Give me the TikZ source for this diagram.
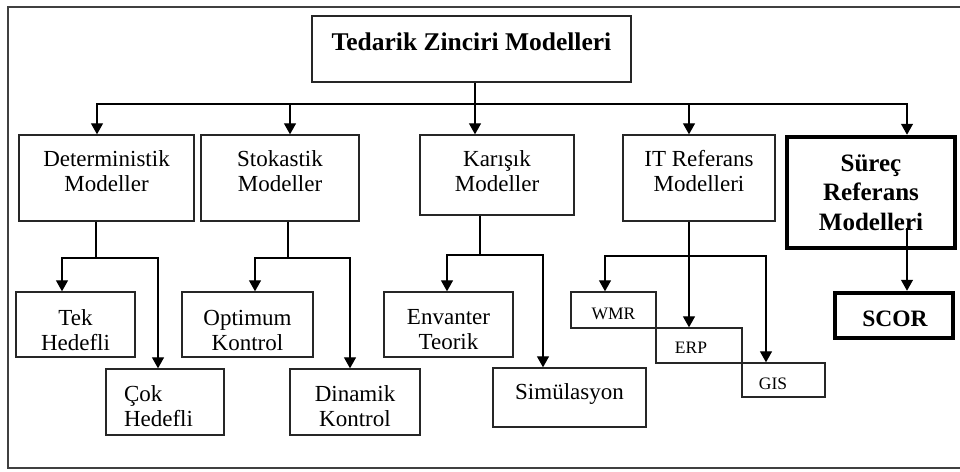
\documentclass[tikz,border=0pt]{standalone}
\usepackage{fontspec}
\setmainfont{Liberation Serif}
\usetikzlibrary{arrows.meta}
\begin{document}
\begin{tikzpicture}[x=1pt,y=-1pt,
  box/.style={draw=black!85, line width=1.4pt, rectangle, inner sep=0pt},
  heavybox/.style={draw=black, line width=4.5pt, rectangle, inner sep=0pt},
  txt/.style={align=center, inner sep=0pt, font=\fontsize{23}{25}\selectfont},
  smalltxt/.style={inner sep=0pt, font=\fontsize{17.5}{20}\selectfont},
  titletxt/.style={inner sep=0pt, font=\bfseries\fontsize{25.5}{29}\selectfont},
  boldtxt/.style={align=center, inner sep=0pt, font=\bfseries\fontsize{25}{29.5}\selectfont},
  scortxt/.style={inner sep=0pt, font=\bfseries\fontsize{23.5}{27}\selectfont},
  link/.style={draw=black, line width=1.3pt},
  arr/.style={link, -{Triangle[width=12pt,length=11pt]}}
]
\useasboundingbox (0,0) rectangle (960,471);

% outer frame (open on the right side)
\draw[line width=1.3pt, black!75] (975,7) -- (8,7) -- (8,468) -- (975,468);

% root
\node[box, minimum width=319pt, minimum height=66pt,
  label={[titletxt, name=top-t, yshift=7pt]center:Tedarik Zinciri Modelleri}] (top) at (471.5,49) {};

% first level
\node[box, minimum width=175pt, minimum height=86pt,
  label={[txt, name=det-t, yshift=6.5pt]center:{Deterministik\\Modeller}}] (det) at (106.5,178) {};
\node[box, minimum width=158pt, minimum height=86pt,
  label={[txt, name=sto-t, yshift=6.5pt]center:{Stokastik\\Modeller}}] (sto) at (280,178) {};
\node[box, minimum width=154pt, minimum height=80pt,
  label={[txt, name=kar-t, yshift=3.5pt]center:{Karışık\\Modeller}}] (kar) at (497,175) {};
\node[box, minimum width=152pt, minimum height=86pt,
  label={[txt, name=it-t, yshift=6.5pt]center:{IT Referans\\Modelleri}}] (it) at (699,178) {};
\node[heavybox, minimum width=168pt, minimum height=111pt,
  label={[boldtxt, name=sur-t]center:{Süreç\\Referans\\Modelleri}}] (sur) at (871,192.5) {};

% second level
\node[box, minimum width=119pt, minimum height=65pt,
  label={[txt, name=tek-t, yshift=-5.5pt]center:{Tek\\Hedefli}}] (tek) at (75.5,324.5) {};
\node[box, minimum width=118pt, minimum height=66pt,
  label={[txt, align=left, name=cok-t, xshift=-6.5pt, yshift=-4.5pt]center:{Çok\\Hedefli}}] (cok) at (165,402) {};
\node[box, minimum width=131pt, minimum height=65pt,
  label={[txt, name=opt-t, yshift=-5.5pt]center:{Optimum\\Kontrol}}] (opt) at (247.5,324.5) {};
\node[box, minimum width=130pt, minimum height=66pt,
  label={[txt, name=din-t, yshift=-4pt]center:{Dinamik\\Kontrol}}] (din) at (355,402) {};
\node[box, minimum width=129pt, minimum height=65pt,
  label={[txt, name=env-t, yshift=-5.5pt]center:{Envanter\\Teorik}}] (env) at (448.5,324.5) {};
\node[box, minimum width=153pt, minimum height=59pt,
  label={[txt, name=sim-t, yshift=3.25pt]center:Simülasyon}] (sim) at (569.5,397.5) {};
\node[box, minimum width=85pt, minimum height=36pt,
  label={[smalltxt, name=wmr-t, yshift=-4pt]center:WMR}] (wmr) at (613.5,310) {};
\node[box, minimum width=86pt, minimum height=35pt,
  label={[smalltxt, name=erp-t, xshift=-8pt, yshift=-2.5pt]center:ERP}] (erp) at (699,345.5) {};
\node[box, minimum width=83pt, minimum height=34pt,
  label={[smalltxt, name=gis-t, xshift=-10.5pt, yshift=-4pt]center:GIS}] (gis) at (783.5,380) {};
\node[heavybox, minimum width=118pt, minimum height=45pt,
  label={[scortxt, name=scor-t, xshift=1pt, yshift=-3.5pt]center:SCOR}] (scor) at (894,315.5) {};

% root to first level
\coordinate (bus) at (475,104);
\draw[arr] (top.south -| bus) -- (kar.north -| bus);
\draw[arr] (bus) -| ([xshift=-9.5pt]det.north);
\draw[arr] (bus) -| ([xshift=10pt]sto.north);
\draw[arr] (bus) -| ([xshift=-10pt]it.north);
\draw[arr] (bus) -| ([xshift=36pt]sur.north);

% deterministic branch
\coordinate (detj) at (96,258);
\draw[link] (det.south -| detj) -- (detj);
\draw[arr] (detj) -| ([xshift=-13.5pt]tek.north);
\draw[arr] (detj) -| ([xshift=-7pt]cok.north);

% stochastic branch
\coordinate (stoj) at (288,258);
\draw[link] (sto.south -| stoj) -- (stoj);
\draw[arr] (stoj) -| ([xshift=7.5pt]opt.north);
\draw[arr] (stoj) -| ([xshift=-5pt]din.north);

% mixed branch
\coordinate (karj) at (480,255);
\draw[link] (kar.south -| karj) -- (karj);
\draw[arr] (karj) -| ([xshift=-1.5pt]env.north);
\draw[arr] (karj) -| ([xshift=-26.5pt]sim.north);

% IT reference branch
\coordinate (itj) at (689,256);
\draw[arr] (it.south -| itj) -- (erp.north -| itj);
\draw[arr] (itj) -| ([xshift=-8.5pt]wmr.north);
\draw[arr] (itj) -| ([xshift=-17.5pt]gis.north);

% process reference branch
\coordinate (surj) at (907,228);
\draw[arr] (surj) -- (scor.north -| surj);
\end{tikzpicture}
\end{document}
